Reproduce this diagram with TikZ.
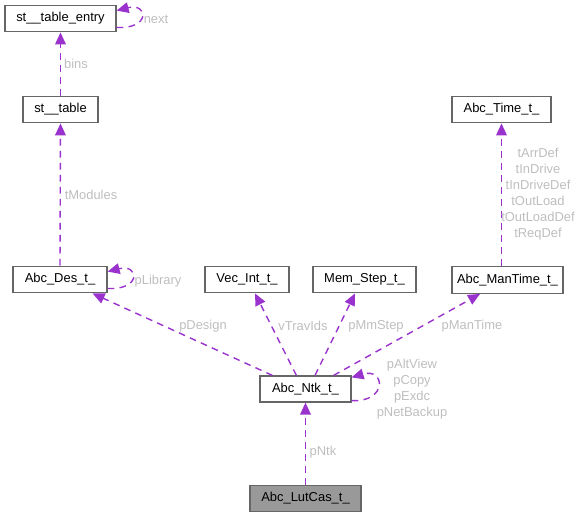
\documentclass[tikz,border=0pt]{standalone}
\usepackage{fontspec}
\setmainfont{Liberation Sans}
\usetikzlibrary{arrows.meta}
\definecolor{edgecol}{HTML}{9A32CD}
\definecolor{boxline}{HTML}{666666}
\definecolor{lblcol}{HTML}{BEBEBE}
\definecolor{boxgray}{HTML}{999999}
\tikzset{
  cls/.style={draw=boxline, line width=0.9pt, fill=white, inner sep=0pt,
    minimum height=20pt, font=\fontsize{9.7}{11.6}\selectfont, text=black},
  edge/.style={draw=edgecol, line width=1.05pt, dash pattern=on 5pt off 4pt,
    -{Triangle[length=9pt,width=8pt]}},
  lbl/.style={font=\fontsize{9.7}{12}\selectfont, text=lblcol, inner sep=0pt, align=center},
}
\begin{document}
\begin{tikzpicture}[x=0.75pt,y=-0.75pt]
\useasboundingbox (0,0) rectangle (581,517);
% classes
\node[cls, minimum width=83.25pt] (entry) at (60.5,18.5) {st\_\_table\_entry};
\node[cls, minimum width=56.25pt] (sttab) at (60.5,109.5) {st\_\_table};
\node[cls, minimum width=70.5pt] (des) at (60,279.5) {Abc\_Des\_t\_};
\node[cls, minimum width=63pt] (vec) at (247,279.5) {Vec\_Int\_t\_};
\node[cls, minimum width=77.25pt] (mem) at (364.5,279.5) {Mem\_Step\_t\_};
\node[cls, minimum width=83.25pt] (mant) at (507.5,280) {Abc\_ManTime\_t\_};
\node[cls, minimum width=74.25pt] (time) at (501.5,109.5) {Abc\_Time\_t\_};
\node[cls, minimum width=68.25pt, minimum height=19.5pt] (ntk) at (305.5,389) {Abc\_Ntk\_t\_};
\node[cls, minimum width=83.25pt, fill=boxgray] (lut) at (305.5,498.5) {Abc\_LutCas\_t\_};
% edges
\draw[edge] (sttab.north) -- (entry.south);
\draw[edge] (des.north) -- (sttab.south);
\draw[edge] ([shift={(13,0)}]ntk.north west) -- ([shift={(-15,0)}]des.south east);
\draw[edge] ([shift={(37,0)}]ntk.north west) -- ([shift={(8,0)}]vec.south);
\draw[edge] ([shift={(9.5,0)}]ntk.north) -- ([shift={(-9.5,0)}]mem.south);
\draw[edge] ([shift={(-18,0)}]ntk.north east) -- ([shift={(-27.5,0)}]mant.south);
\draw[edge] ([shift={(-6,0)}]mant.north) -- (time.south);
\draw[edge] (lut.north) -- (ntk.south);
% self loops
\draw[edge] ([shift={(0,-5)}]entry.south east) .. controls +(34,2) and +(32,-8) .. ([shift={(0,6)}]entry.north east);
\draw[edge] ([shift={(0,-5)}]des.south east) .. controls +(34,2) and +(32,-8) .. ([shift={(0,6)}]des.north east);
\draw[edge] ([shift={(0,-2)}]ntk.south east) .. controls +(36,2) and +(34,-10) .. ([shift={(0,2)}]ntk.north east);
% labels
\node[lbl] (lnext) at (156,19) {next};
\node[lbl] (lbins) at (76,64) {bins};
\node[lbl] (lmod) at (91,195) {tModules};
\node[lbl] (llib) at (158,281) {pLibrary};
\node[lbl] (ldes) at (203,326) {pDesign};
\node[lbl] (lvti) at (303,326) {vTravIds};
\node[lbl] (lmm) at (376,326) {pMmStep};
\node[lbl] (lman) at (472,326) {pManTime};
\node[lbl] (ltime) at (538,194) {tArrDef\\tInDrive\\tInDriveDef\\tOutLoad\\tOutLoadDef\\tReqDef};
\node[lbl] (lntkself) at (412,389.5) {pAltView\\pCopy\\pExdc\\pNetBackup};
\node[lbl] (lntk) at (323,452) {pNtk};
\end{tikzpicture}
\end{document}
